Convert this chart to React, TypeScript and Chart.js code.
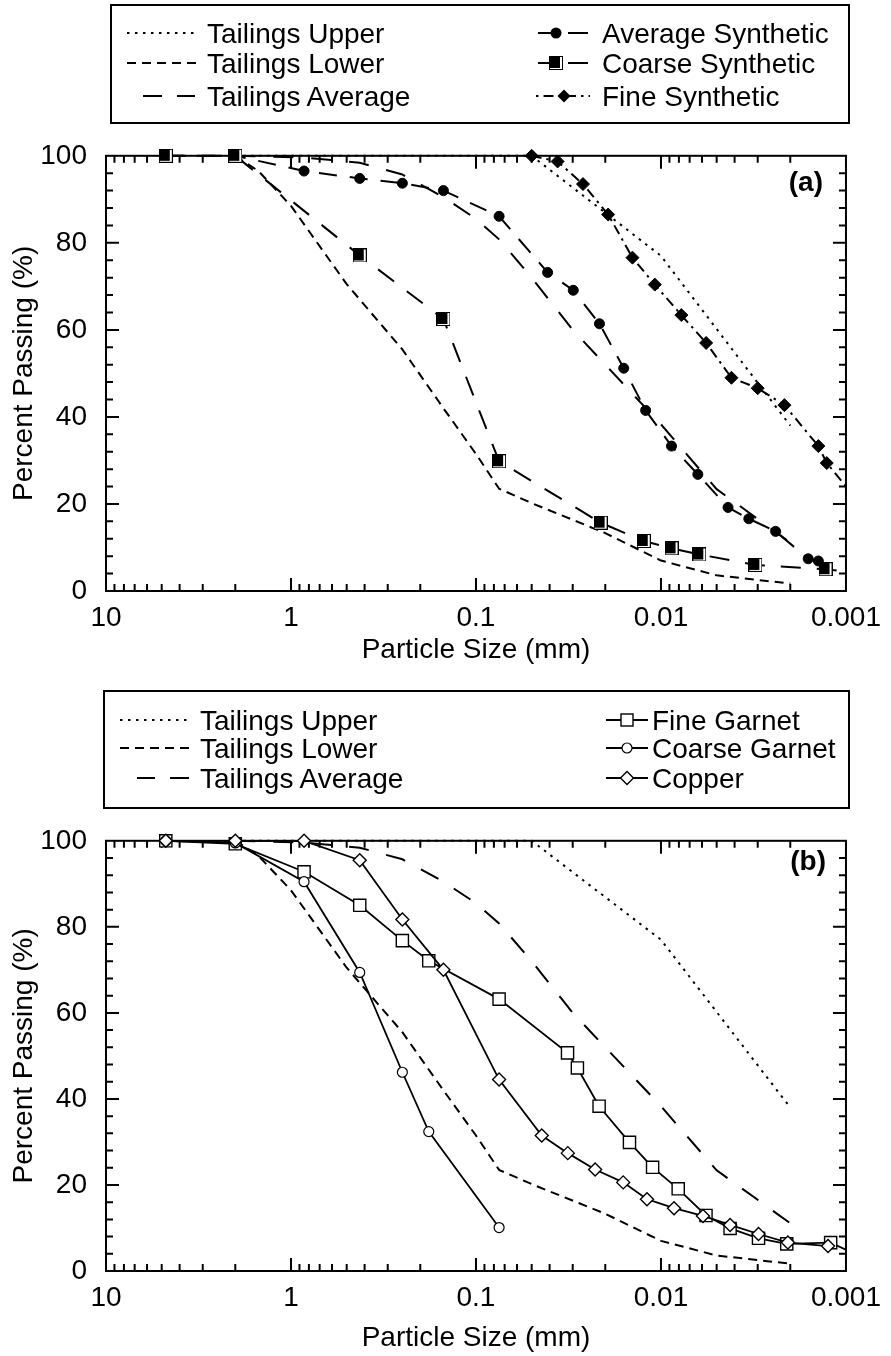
import React, { useEffect, useRef } from 'react';
import { Chart, registerables } from 'chart.js';

Chart.register(...registerables);

const FONT = "'Liberation Sans', Arial, Helvetica, sans-serif";

// ---------- axis ticks ----------
const xTickValues = [10, 1, 0.1, 0.01, 0.001];
const xTickLabels = ['10', '1', '0.1', '0.01', '0.001'];
const yTickValues = [0, 20, 40, 60, 80, 100];
const yTickLabels = ['0', '20', '40', '60', '80', '100'];

// ---------- tailings envelope (shared by both panels) ----------
const tailUpperSize = [2, 0.05, 0.01, 0.002];
const tailUpperPct = [100, 100, 77, 38];
const tailLowerSize = [2, 1.5, 1, 0.5, 0.25, 0.15, 0.1, 0.075, 0.05, 0.02, 0.01, 0.005, 0.002];
const tailLowerPct = [100, 96.5, 88.5, 70.5, 55.5, 42, 31.5, 23.5, 20.2, 13.3, 7, 3.6, 1.7];
const tailAvgSize = [2, 0.85, 0.425, 0.25, 0.15, 0.1, 0.075, 0.05, 0.03, 0.02, 0.01, 0.005, 0.002];
const tailAvgPct = [100, 99.6, 98.4, 95.7, 90.5, 85.5, 80.8, 72, 60, 52, 38.3, 23.4, 11.1];

// ---------- panel (a) synthetic samples ----------
const avgSynSize = [4.75, 2, 0.85, 0.425, 0.25, 0.15, 0.075, 0.041, 0.0298, 0.0215, 0.0159, 0.0121, 0.00877, 0.00632, 0.00434, 0.00335, 0.0024, 0.0016, 0.00141];
const avgSynPct = [100, 100, 96.5, 94.8, 93.7, 92, 86.1, 73.2, 69.1, 61.4, 51.2, 41.5, 33.3, 26.8, 19.2, 16.6, 13.7, 7.4, 6.9];
const coarseSynSize = [4.75, 2, 0.425, 0.15, 0.075, 0.0212, 0.0124, 0.00877, 0.00621, 0.00309, 0.00129, 0.0009];
const coarseSynPct = [100, 100, 77.1, 62.5, 29.8, 15.7, 11.5, 9.8, 8.4, 6, 5, 4.3];
const fineSynSize = [0.05, 0.0362, 0.0264, 0.0193, 0.01426, 0.0108, 0.00776, 0.0057, 0.00416, 0.003, 0.00215, 0.00141, 0.00127, 0.0009];
const fineSynPct = [100, 98.7, 93.5, 86.5, 76.6, 70.4, 63.4, 57, 49, 46.6, 42.7, 33.3, 29.4, 21.7];

// ---------- panel (b) natural materials ----------
const fineGarnetSize = [4.75, 2, 0.85, 0.425, 0.25, 0.18, 0.075, 0.032, 0.0283, 0.0216, 0.0148, 0.0111, 0.00807, 0.00571, 0.00423, 0.00297, 0.00209, 0.00121, 0.0009];
const fineGarnetPct = [100, 99.3, 92.8, 85, 76.8, 72.1, 63.2, 50.7, 47.2, 38.3, 29.9, 24.1, 19.1, 12.9, 9.9, 7.6, 6.3, 6.6, 4.0];
const coarseGarnetSize = [4.75, 2, 0.85, 0.425, 0.25, 0.18, 0.075];
const coarseGarnetPct = [100, 99.5, 90.5, 69.4, 46.2, 32.4, 10.1];
const copperSize = [4.75, 2, 0.85, 0.425, 0.25, 0.15, 0.075, 0.0441, 0.0319, 0.0227, 0.016, 0.0119, 0.0085, 0.00593, 0.00423, 0.00297, 0.00206, 0.00125];
const copperPct = [100, 100, 100, 95.5, 81.7, 70, 44.5, 31.5, 27.4, 23.6, 20.6, 16.7, 14.6, 12.8, 10.7, 8.6, 6.6, 5.8];

const pts = (sizes: number[], pcts: number[]) => sizes.map((s, i) => ({ x: s, y: pcts[i] }));

function makeCoarseMarker() {
  const c = document.createElement('canvas');
  c.width = 14;
  c.height = 14;
  const g = c.getContext('2d')!;
  g.fillStyle = '#fff';
  g.fillRect(0, 0, 14, 14);
  g.strokeStyle = '#000';
  g.lineWidth = 1;
  g.strokeRect(0.5, 0.5, 13, 13);
  g.fillStyle = '#000';
  g.fillRect(0, 0, 11, 12);
  return c;
}

const inRange = (r: number) => (ctx: any) => (ctx.raw && ctx.raw.x < 0.001 ? 0 : r);

function series(label: string, sizes: number[], pcts: number[], extra: any) {
  return {
    label,
    data: pts(sizes, pcts),
    borderColor: '#000',
    backgroundColor: '#000',
    borderWidth: 2,
    pointRadius: 0,
    pointBorderColor: '#000',
    pointBackgroundColor: '#000',
    tension: 0,
    fill: false,
    clip: { left: 14, top: 14, right: 0, bottom: 14 },
    ...extra,
  };
}

function tailings() {
  return [
    series('Tailings Upper', tailUpperSize, tailUpperPct, { borderDash: [2.5, 5.5] }),
    series('Tailings Lower', tailLowerSize, tailLowerPct, { borderDash: [9, 6] }),
    series('Tailings Average', tailAvgSize, tailAvgPct, { borderDash: [20, 18] }),
  ];
}

function datasetsA() {
  const coarse = makeCoarseMarker();
  return [
    series('Coarse Synthetic', coarseSynSize, coarseSynPct, {
      borderDash: [20, 16], pointStyle: coarse, pointRadius: inRange(7),
    }),
    series('Average Synthetic', avgSynSize, avgSynPct, {
      borderDash: [18, 13], pointStyle: 'circle', pointRadius: inRange(5), pointBorderWidth: 1,
    }),
    series('Fine Synthetic', fineSynSize, fineSynPct, {
      borderDash: [10, 5, 2.5, 5], pointStyle: 'rectRot', pointRadius: inRange(6.5), pointBorderWidth: 1,
    }),
    ...tailings(),
  ];
}

function datasetsB() {
  return [
    series('Copper', copperSize, copperPct, {
      borderWidth: 1.8, pointStyle: 'rectRot', pointRadius: inRange(6.5), pointBorderWidth: 1.4,
      pointBackgroundColor: '#fff',
    }),
    series('Coarse Garnet', coarseGarnetSize, coarseGarnetPct, {
      borderWidth: 1.8, pointStyle: 'circle', pointRadius: inRange(5), pointBorderWidth: 1.2,
      pointBackgroundColor: '#fff',
    }),
    series('Fine Garnet', fineGarnetSize, fineGarnetPct, {
      borderWidth: 1.8, pointStyle: 'rect', pointRadius: inRange(8.6), pointBorderWidth: 1.4,
      pointBackgroundColor: '#fff',
    }),
    ...tailings(),
  ];
}

const framePlugin = {
  id: 'frameTicks',
  beforeDatasetsDraw(chart: any) {
    const { ctx, chartArea, scales } = chart;
    const { left, right, top, bottom } = chartArea;
    const xs = scales.x;
    const ys = scales.y;
    const MAJ = 13;
    const MIN = 7;
    ctx.save();
    ctx.strokeStyle = '#000';
    ctx.lineWidth = 2;
    ctx.beginPath();
    // x ticks (decades + 2..9 minors), on bottom and top, pointing inward
    for (let e = -3; e <= 1; e++) {
      const d = Math.pow(10, e);
      const px = xs.getPixelForValue(d);
      if (e !== 1 && e !== -3) {
        ctx.moveTo(px, bottom); ctx.lineTo(px, bottom - MAJ);
        ctx.moveTo(px, top); ctx.lineTo(px, top + MAJ);
      }
      if (e < 1) {
        for (let k = 2; k <= 9; k++) {
          const p = xs.getPixelForValue(k * d);
          ctx.moveTo(p, bottom); ctx.lineTo(p, bottom - MIN);
          ctx.moveTo(p, top); ctx.lineTo(p, top + MIN);
        }
      }
    }
    // y ticks every 4 %, major every 20 %
    for (let v = 4; v < 100; v += 4) {
      const py = ys.getPixelForValue(v);
      const len = v % 20 === 0 ? MAJ : MIN;
      ctx.moveTo(left, py); ctx.lineTo(left + len, py);
      ctx.moveTo(right, py); ctx.lineTo(right - len, py);
    }
    ctx.stroke();
    ctx.strokeRect(left, top, right - left, bottom - top);
    ctx.restore();
  },
};

function labelFor(list: number[], labels: string[], v: number) {
  let best = 0;
  let bd = Infinity;
  list.forEach((t, i) => {
    const d = Math.abs(Math.log10(Math.max(t, 1e-9)) - Math.log10(Math.max(v, 1e-9)));
    if (d < bd) { bd = d; best = i; }
  });
  return labels[best];
}

function Panel(props: { top: number; height: number; padBottom: number; axisH: number; which: 'a' | 'b' }) {
  const ref = useRef<HTMLCanvasElement>(null);
  useEffect(() => {
    const chart = new Chart(ref.current!, {
      type: 'line',
      data: { datasets: (props.which === 'a' ? datasetsA() : datasetsB()) as any },
      options: {
        animation: false,
        responsive: false,
        maintainAspectRatio: false,
        events: [],
        layout: { padding: { top: 20, right: 38, bottom: props.padBottom, left: 0 } },
        plugins: { legend: { display: false }, tooltip: { enabled: false } },
        scales: {
          x: {
            type: 'logarithmic',
            reverse: true,
            min: 0.001,
            max: 10,
            position: 'bottom',
            grid: { display: false, drawTicks: false },
            border: { display: false },
            afterBuildTicks: (s: any) => { s.ticks = xTickValues.map((v) => ({ value: v })); },
            afterFit: (s: any) => { s.height = props.axisH; },
            ticks: {
              padding: 10, color: '#000', autoSkip: false, maxRotation: 0,
              font: { family: FONT, size: 28 },
              callback: (v: any) => labelFor(xTickValues, xTickLabels, Number(v)),
            },
            title: { display: true, text: 'Particle Size (mm)', color: '#000', padding: 0, font: { family: FONT, size: 28 } },
          },
          y: {
            type: 'linear',
            min: 0,
            max: 100,
            position: 'left',
            grid: { display: false, drawTicks: false },
            border: { display: false },
            afterBuildTicks: (s: any) => { s.ticks = yTickValues.map((v) => ({ value: v })); },
            afterFit: (s: any) => { s.width = 106; },
            ticks: {
              padding: 19, color: '#000',
              font: { family: FONT, size: 28 },
              callback: (v: any) => yTickLabels[yTickValues.indexOf(Number(v))] ?? String(v),
            },
            title: { display: true, text: 'Percent Passing (%)', color: '#000', padding: { top: 7, bottom: 0 }, font: { family: FONT, size: 28 } },
          },
        },
      } as any,
      plugins: [framePlugin],
    });
    return () => chart.destroy();
  }, []);
  return (
    <canvas
      ref={ref}
      width={891}
      height={props.height}
      style={{ position: 'absolute', left: 0, top: props.top, width: 891, height: props.height }}
    />
  );
}

const diamond = (cx: number, cy: number, r: number) => `${cx - r},${cy} ${cx},${cy - r} ${cx + r},${cy} ${cx},${cy + r}`;

function Legends() {
  const txt = { fontFamily: FONT, fontSize: 28, fill: '#000' } as any;
  const rowsA = [33, 63, 96];
  const rowsB = [720, 748, 778];
  return (
    <svg width={891} height={1356} style={{ position: 'absolute', left: 0, top: 0, pointerEvents: 'none' }}>
      {/* ---------- legend (a) ---------- */}
      <rect x={111} y={5} width={738} height={118} fill="#fff" stroke="#000" strokeWidth={2} />
      <line x1={127} y1={rowsA[0]} x2={199} y2={rowsA[0]} stroke="#000" strokeWidth={2} strokeDasharray="2.5 5.5" />
      <line x1={127} y1={rowsA[1]} x2={199} y2={rowsA[1]} stroke="#000" strokeWidth={2} strokeDasharray="9 6" />
      <line x1={143} y1={rowsA[2]} x2={162} y2={rowsA[2]} stroke="#000" strokeWidth={2} />
      <line x1={177} y1={rowsA[2]} x2={195} y2={rowsA[2]} stroke="#000" strokeWidth={2} />
      <text x={207} y={rowsA[0] + 10} {...txt}>Tailings Upper</text>
      <text x={207} y={rowsA[1] + 10} {...txt}>Tailings Lower</text>
      <text x={207} y={rowsA[2] + 10} {...txt}>Tailings Average</text>

      <line x1={538} y1={rowsA[0]} x2={590} y2={rowsA[0]} stroke="#000" strokeWidth={2} strokeDasharray="20 10" />
      <circle cx={556} cy={rowsA[0]} r={5.5} fill="#000" />
      <line x1={538} y1={rowsA[1]} x2={590} y2={rowsA[1]} stroke="#000" strokeWidth={2} strokeDasharray="20 10" />
      <rect x={549.5} y={rowsA[1] - 6.5} width={13} height={13} fill="#fff" stroke="#000" strokeWidth={1} />
      <rect x={549} y={rowsA[1] - 7} width={11} height={12} fill="#000" />
      <line x1={536} y1={rowsA[2]} x2={590} y2={rowsA[2]} stroke="#000" strokeWidth={2} strokeDasharray="2.5 5 10 5" />
      <polygon points={diamond(564, rowsA[2], 6.5)} fill="#000" />
      <text x={602} y={rowsA[0] + 10} {...txt}>Average Synthetic</text>
      <text x={602} y={rowsA[1] + 10} {...txt}>Coarse Synthetic</text>
      <text x={602} y={rowsA[2] + 10} {...txt}>Fine Synthetic</text>

      {/* ---------- legend (b) ---------- */}
      <rect x={104} y={691} width={745} height={117} fill="#fff" stroke="#000" strokeWidth={2} />
      <line x1={120} y1={rowsB[0]} x2={192} y2={rowsB[0]} stroke="#000" strokeWidth={2} strokeDasharray="2.5 5.5" />
      <line x1={120} y1={rowsB[1]} x2={192} y2={rowsB[1]} stroke="#000" strokeWidth={2} strokeDasharray="9 6" />
      <line x1={137} y1={rowsB[2]} x2={155} y2={rowsB[2]} stroke="#000" strokeWidth={2} />
      <line x1={170} y1={rowsB[2]} x2={189} y2={rowsB[2]} stroke="#000" strokeWidth={2} />
      <text x={200} y={rowsB[0] + 10} {...txt}>Tailings Upper</text>
      <text x={200} y={rowsB[1] + 10} {...txt}>Tailings Lower</text>
      <text x={200} y={rowsB[2] + 10} {...txt}>Tailings Average</text>

      <line x1={606} y1={rowsB[0]} x2={648} y2={rowsB[0]} stroke="#000" strokeWidth={1.8} />
      <rect x={621} y={rowsB[0] - 6} width={12} height={12} fill="#fff" stroke="#000" strokeWidth={1.4} />
      <line x1={606} y1={rowsB[1]} x2={648} y2={rowsB[1]} stroke="#000" strokeWidth={1.8} />
      <circle cx={627} cy={rowsB[1]} r={5} fill="#fff" stroke="#000" strokeWidth={1.2} />
      <line x1={606} y1={rowsB[2]} x2={648} y2={rowsB[2]} stroke="#000" strokeWidth={1.8} />
      <polygon points={diamond(627, rowsB[2], 6.5)} fill="#fff" stroke="#000" strokeWidth={1.4} />
      <text x={652} y={rowsB[0] + 10} {...txt}>Fine Garnet</text>
      <text x={652} y={rowsB[1] + 10} {...txt}>Coarse Garnet</text>
      <text x={652} y={rowsB[2] + 10} {...txt}>Copper</text>

      {/* panel tags */}
      <text x={823} y={191} textAnchor="end" fontFamily={FONT} fontSize={28} fontWeight="bold" fill="#000">(a)</text>
      <text x={826} y={870} textAnchor="end" fontFamily={FONT} fontSize={28} fontWeight="bold" fill="#000">(b)</text>
    </svg>
  );
}

export default function App() {
  return (
    <div style={{ position: 'absolute', left: 0, top: 0, width: 891, height: 1356, overflow: 'hidden', background: '#fff' }}>
      <Panel which="a" top={120} height={550} padBottom={3} axisH={76} />
      <Panel which="b" top={805} height={551} padBottom={1} axisH={84} />
      <Legends />
    </div>
  );
}
